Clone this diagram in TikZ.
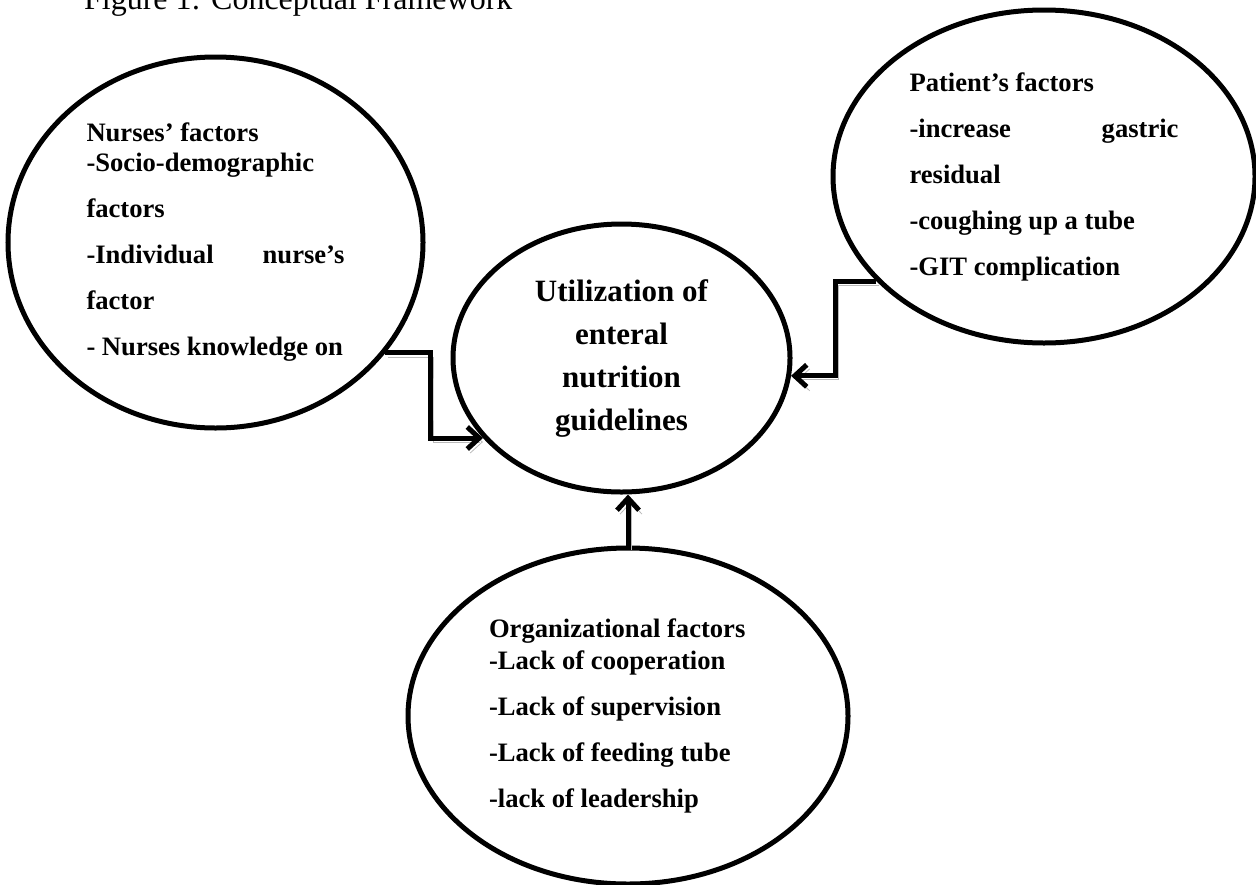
\documentclass[tikz,border=0pt]{standalone}
\usepackage{fontspec}
\setmainfont{Liberation Serif}
\usetikzlibrary{shapes.geometric,arrows.meta}

\begin{document}
\begin{tikzpicture}[x=0.5pt, y=-0.5pt, >={Straight Barb[length=6pt,width=11pt]},
    factor/.style={draw, ellipse, line width=2.5pt, inner sep=0pt, align=flush left,
        font=\bfseries\fontsize{13.3}{23}\selectfont},
    link/.style={->, line width=2.5pt,
        preaction={draw=gray!55, transform canvas={shift={(1.5pt,-2pt)}}}}]
    \useasboundingbox (0,0) rectangle (1256,884);

    \node[anchor=base west, font=\fontsize{16}{19}\selectfont] (caption) at (77,9)
        {Figure 1: Conceptual Framework};

    \node[factor, minimum width=207.5pt, minimum height=185.5pt, text width=129pt]
        (nurse) at (215.5,242.5)
        {Nurses’ factors\\[-8pt] -Socio-demographic\\ factors\\ -Individual\hfill nurse’s\\
         factor\\ - Nurses knowledge on};
    \node[factor, align=center, font=\bfseries\fontsize{15.5}{21.5}\selectfont,
        minimum width=168.5pt, minimum height=134pt] (util) at (621.5,358)
        {Utilization of\\ enteral\\ nutrition\\ guidelines};
    \node[factor, minimum width=211pt, minimum height=166.5pt, text width=134.5pt]
        (patient) at (1044,176.5)
        {Patient’s factors\\ -increase\hfill gastric\\ residual\\ -coughing up a tube\\
         -GIT complication};
    \node[factor, minimum width=220pt, minimum height=168pt, text width=139pt]
        (org) at (628,716)
        {Organizational factors\\[-7pt] -Lack of cooperation\\ -Lack of supervision\\
         -Lack of feeding tube\\ -lack of leadership};

    \coordinate (nbend) at (430,395);
    \coordinate (pbend) at (835,330);
    \draw[link] (nurse.-33) -| (nbend) |- (util.210.6);
    \draw[link] (patient.212.9) -| (pbend) |- (util.-6.5);
    \draw[link] (org.north) -- (org.north |- util.south);
\end{tikzpicture}
\end{document}
